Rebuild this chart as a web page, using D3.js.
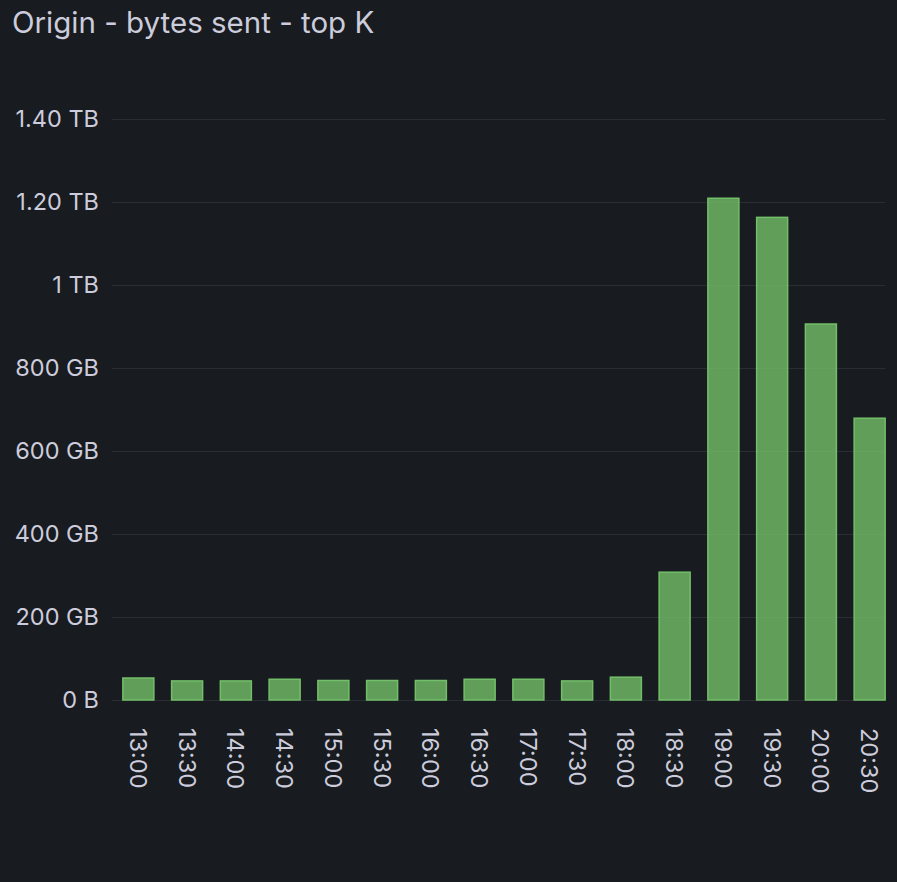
<!DOCTYPE html>
<html>
<head>
<meta charset="utf-8">
<script src="https://cdn.jsdelivr.net/npm/d3@7"></script>
<style>
  html, body { margin: 0; padding: 0; background: #181b1f; }
  svg { display: block; font-family: Inter, "Noto Sans", sans-serif; }
</style>
</head>
<body>
<svg id="chart" width="897" height="882"></svg>
<script>
// time buckets on the x axis
const times = ["13:00", "13:30", "14:00", "14:30", "15:00", "15:30", "16:00", "16:30",
  "17:00", "17:30", "18:00", "18:30", "19:00", "19:30", "20:00", "20:30"];

// bytes sent, in GB
const bytesSent = [53, 46, 46, 50, 47, 47, 47, 50, 50, 46, 55, 308, 1209, 1163, 906, 679];

// y ticks (GB) and their labels
const yTicks = [0, 200, 400, 600, 800, 1000, 1200, 1400];
const yTickLabels = ["0 B", "200 GB", "400 GB", "600 GB", "800 GB", "1 TB", "1.20 TB", "1.40 TB"];

const svg = d3.select("#chart");

const plot = { left: 112, right: 885, top: 119, bottom: 700 };

// scales
const x = d3.scaleBand()
  .domain(times)
  .range([117, 891])
  .paddingInner(0.364)
  .paddingOuter(0.12);

const y = d3.scaleLinear().domain([0, 1400]).range([plot.bottom, plot.top]);

// title
svg.append("text")
  .attr("x", 12)
  .attr("y", 33)
  .attr("fill", "#ccccdc")
  .attr("font-size", 29.5)
  .text("Origin - bytes sent - top K");

// grid lines + y labels
const yAxis = d3.axisLeft(y)
  .tickValues(yTicks)
  .tickFormat((d, i) => yTickLabels[i])
  .tickSize(-(plot.right - plot.left))
  .tickPadding(13);

svg.append("g")
  .attr("transform", `translate(${plot.left},0)`)
  .call(yAxis)
  .call(g => g.select(".domain").remove())
  .call(g => g.selectAll(".tick line").attr("stroke", "#2a2d33").attr("stroke-width", 1))
  .call(g => g.selectAll(".tick text")
    .attr("fill", "#ccccdc")
    .attr("font-size", 23.5)
    .attr("font-family", "Inter, 'Noto Sans', sans-serif"));

// bars
svg.selectAll(".bar")
  .data(bytesSent)
  .enter()
  .append("rect")
  .attr("class", "bar")
  .attr("x", (d, i) => x(times[i]))
  .attr("y", d => y(d))
  .attr("width", x.bandwidth())
  .attr("height", d => y(0) - y(d))
  .attr("fill", "#73bf69")
  .attr("fill-opacity", 0.8)
  .attr("stroke", "#73bf69")
  .attr("stroke-width", 1.5);

// x labels, rotated
const xAxis = d3.axisBottom(x).tickSize(0).tickPadding(0);

svg.append("g")
  .attr("transform", `translate(0,${plot.bottom})`)
  .call(xAxis)
  .call(g => g.select(".domain").remove())
  .call(g => g.selectAll(".tick text")
    .attr("fill", "#ccccdc")
    .attr("font-size", 23.5)
    .attr("font-family", "Inter, 'Noto Sans', sans-serif")
    .attr("text-anchor", "start")
    .attr("dy", null)
    .attr("dominant-baseline", "central")
    .attr("transform", "translate(0,28) rotate(90)"));
</script>
</body>
</html>
